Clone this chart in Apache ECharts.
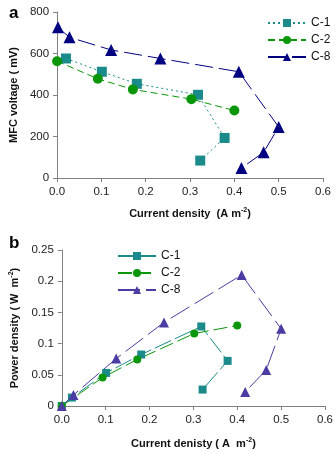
<!DOCTYPE html>
<html><head><meta charset="utf-8">
<script src="https://cdn.jsdelivr.net/npm/echarts@6/dist/echarts.min.js"></script>
<style>html,body{margin:0;padding:0;background:#fff}#c{width:336px;height:453px}</style>
</head><body><div id="c"></div>
<script>
// Panel a: MFC voltage vs current density
const aC1x = [0.020, 0.101, 0.180, 0.318, 0.378, 0.323];
const aC1y = [576, 512, 454, 401, 193, 84];
const aC2x = [0.000, 0.092, 0.171, 0.303, 0.400];
const aC2y = [563, 478, 427, 380, 325];
const aC8x = [0.002, 0.028, 0.122, 0.233, 0.410, 0.500, 0.466, 0.416];
const aC8y = [726, 678, 617, 576, 512, 246, 124, 48];
// Panel b: power density vs current density
const bC1x = [0.000, 0.023, 0.101, 0.181, 0.318, 0.378, 0.321];
const bC1y = [0.000, 0.0135, 0.053, 0.0825, 0.1275, 0.0723, 0.0263];
const bC2x = [0.000, 0.093, 0.172, 0.302, 0.400];
const bC2y = [0.000, 0.0456, 0.0745, 0.1162, 0.129];
const bC8x = [0.000, 0.0266, 0.124, 0.233, 0.410, 0.500, 0.466, 0.418];
const bC8y = [0.000, 0.0177, 0.076, 0.134, 0.210, 0.1237, 0.0578, 0.0225];
const seriesNames = ['C-1', 'C-2', 'C-8'];
const xTicks = [0, 0.1, 0.2, 0.3, 0.4, 0.5, 0.6];

const pairs = (xs, ys) => xs.map((x, i) => [x, ys[i]]);
const F = 'Liberation Sans, Arial, sans-serif';
const teal = '#1a8a8a', green = '#0a960a', navy = '#000080', slate = '#4a3ca2';

const axisCommon = {
  axisLine: {show: true, lineStyle: {color: '#808080', width: 1}},
  axisTick: {show: true, inside: false, length: 4, lineStyle: {color: '#808080'}},
  splitLine: {show: false},
  axisLabel: {color: '#222', fontFamily: F, fontSize: 11.5}
};
const nameStyle = {
  color: '#111', fontFamily: F, fontSize: 11, fontWeight: 'bold',
  rich: {sup: {fontSize: 7, fontWeight: 'bold', fontFamily: F, color: '#111', padding: [0, 0, 7, 0]}}
};

function mk(name, data, color, sym, size, dash, xi, width) {
  return {
    name, type: 'line', xAxisIndex: xi, yAxisIndex: xi, data,
    symbol: sym, symbolSize: size, showSymbol: true,
    lineStyle: {color, width: width || 1, type: dash},
    itemStyle: {color},
    emphasis: {disabled: true}, animation: false
  };
}

const option = {
  animation: false,
  title: [
    {text: 'a', left: 4, top: 0, textStyle: {fontFamily: F, fontSize: 17, fontWeight: 'bold', color: '#000'}},
    {text: 'b', left: 4, top: 230, textStyle: {fontFamily: F, fontSize: 17, fontWeight: 'bold', color: '#000'}}
  ],
  grid: [
    {left: 53, right: 13, top: 12, height: 166},
    {left: 51, right: 7, top: 250, height: 156}
  ],
  xAxis: [
    Object.assign({}, axisCommon, {gridIndex: 0, type: 'value', min: 0, max: 0.6, interval: 0.1,
      axisLabel: Object.assign({}, axisCommon.axisLabel, {margin: 8, formatter: v => v.toFixed(1)}),
      name: 'Current density  (A m{sup|-2})', nameLocation: 'middle', nameGap: 29, nameTextStyle: nameStyle}),
    Object.assign({}, axisCommon, {gridIndex: 1, type: 'value', min: 0, max: 0.6, interval: 0.1,
      axisLabel: Object.assign({}, axisCommon.axisLabel, {margin: 8, formatter: v => v.toFixed(1)}),
      name: 'Current denisty ( A  m{sup|-2})', nameLocation: 'middle', nameGap: 31, nameTextStyle: nameStyle})
  ],
  yAxis: [
    Object.assign({}, axisCommon, {gridIndex: 0, type: 'value', min: 0, max: 800, interval: 200,
      name: 'MFC voltage ( mV)', nameLocation: 'middle', nameGap: 35, nameTextStyle: nameStyle}),
    Object.assign({}, axisCommon, {gridIndex: 1, type: 'value', min: 0, max: 0.25, interval: 0.05,
      name: 'Power density ( W  m{sup|-2})', nameLocation: 'middle', nameGap: 37, nameTextStyle: nameStyle})
  ],
  legend: [
    {orient: 'vertical', left: 262, top: 12, itemWidth: 38, itemHeight: 10, itemGap: 5,
      data: seriesNames, textStyle: {fontFamily: F, fontSize: 12, color: '#111'}, selectedMode: false},
    {orient: 'vertical', left: 112, top: 245, itemWidth: 38, itemHeight: 10, itemGap: 5,
      data: seriesNames.map(n => n + ' '), formatter: n => n.trim(),
      textStyle: {fontFamily: F, fontSize: 12, color: '#111'}, selectedMode: false}
  ],
  series: [
    mk(seriesNames[0], pairs(aC1x, aC1y), teal, 'rect', 10, [2, 3], 0),
    mk(seriesNames[1], pairs(aC2x, aC2y), green, 'circle', 10, [7, 4], 0),
    mk(seriesNames[2], pairs(aC8x, aC8y), navy, 'triangle', 12, [18, 6], 0),
    mk(seriesNames[0] + ' ', pairs(bC1x, bC1y), teal, 'rect', 8, [18, 4], 1),
    mk(seriesNames[1] + ' ', pairs(bC2x, bC2y), green, 'circle', 8, [14, 5], 1),
    mk(seriesNames[2] + ' ', pairs(bC8x, bC8y), slate, 'triangle', 10, [22, 6], 1)
  ]
};
const chart = echarts.init(document.getElementById('c'), null, {renderer: 'canvas'});
chart.setOption(option);
</script></body></html>
